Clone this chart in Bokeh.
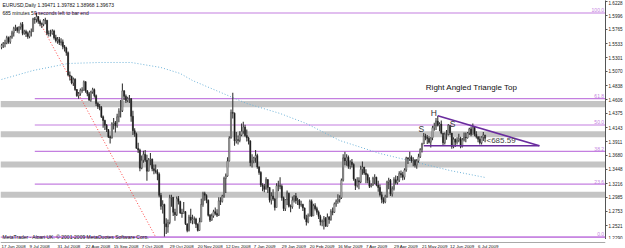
from bokeh.plotting import figure
from bokeh.layouts import column
from bokeh.models import (Range1d, FixedTicker, BoxAnnotation, Label, Span,
                          ColumnDataSource, PrintfTickFormatter)
from bokeh.embed import file_html
from bokeh.resources import INLINE
from bokeh.core.properties import value

# ---------------- data (EURUSD daily, 17 Jun 2008 .. 10 Jul 2009) ----------------
first_open = 1.5470
closes = [
 1.5505,1.5535,1.5540,1.5630,1.5560,1.5640,1.5710,1.5780,1.5795,1.5750,
 1.5805,1.5850,1.5700,1.5730,1.5700,1.5650,1.5720,1.5730,1.5940,1.5930,1.5980,1.5900,1.5860,1.5850,1.5920,1.5920,1.5700,1.5700,1.5700,1.5740,1.5630,1.5580,1.5600,
 1.5550,1.5560,1.5480,1.5460,1.5380,1.5010,1.4990,1.4880,1.4940,1.4770,1.4670,1.4700,1.4760,1.4760,1.4900,1.4750,1.4700,1.4600,1.4730,1.4770,1.4670,
 1.4540,1.4490,1.4480,1.4320,1.4260,1.4180,1.4110,1.3990,1.3970,1.4200,1.4220,1.4170,1.4320,1.4410,1.4420,1.4750,1.4660,1.4590,1.4620,1.4620,1.4330,1.4090,
 1.4040,1.3800,1.3770,1.3470,1.3600,1.3700,1.3600,1.3420,1.3610,1.3620,1.3460,1.3430,1.3410,1.3370,1.3020,1.2840,1.2870,1.2550,1.2500,1.2570,1.2980,1.2990,1.2740,
 1.2700,1.2970,1.2920,1.2730,1.2720,1.2750,1.2550,1.2440,1.2660,1.2610,1.2630,1.2630,1.2540,1.2440,1.2580,1.2870,1.3050,1.3020,1.2940,1.2690,
 1.2610,1.2680,1.2750,1.2720,1.2690,1.2930,1.2920,1.3010,1.3300,1.3340,1.3590,1.3970,1.4390,1.4380,1.3920,1.3940,1.3930,1.4020,1.4080,1.4150,1.4010,1.3970,
 1.3920,1.3560,1.3590,1.3640,1.3680,1.3490,1.3400,1.3190,1.3170,1.3120,1.3280,1.3150,1.2940,1.3010,1.2960,1.2820,1.3180,1.3180,1.3170,1.2980,1.2800,
 1.2950,1.3060,1.2840,1.2830,1.2940,1.3010,1.2930,1.2940,1.2860,1.2870,1.2810,1.2640,1.2580,1.2680,1.2920,1.2680,1.2850,1.2800,1.2740,1.2670,
 1.2580,1.2590,1.2640,1.2510,1.2660,1.2620,1.2750,1.2740,1.2880,1.2920,1.2950,1.2980,1.3270,1.3640,1.3590,1.3650,1.3500,1.3570,1.3530,1.3290,1.3180,1.3260,
 1.3240,1.3450,1.3490,1.3390,1.3360,1.3270,1.3170,1.3190,1.3300,1.3320,1.3190,1.3150,1.3030,1.2950,1.2910,1.3000,1.3240,1.3270,1.3040,1.3130,1.3280,1.3230,
 1.3270,1.3380,1.3360,1.3320,1.3440,1.3640,1.3620,1.3650,1.3590,1.3600,1.3520,1.3590,1.3660,1.3780,1.3870,1.4000,1.3980,1.3960,1.3900,1.3970,1.4140,
 1.4170,1.4250,1.4180,1.4200,1.4050,1.3890,1.4030,1.4030,1.4180,1.4050,1.3830,1.3950,1.3900,1.3930,1.3960,1.3830,1.3940,1.3980,1.3970,1.4050,1.4120,1.4030,
 1.4150,1.4030,1.3990,1.3950,1.3890,1.3980,1.4020,1.3967]
highs = [
 1.5530,1.5560,1.5595,1.5660,1.5650,1.5660,1.5745,1.5810,1.5845,1.5810,
 1.5820,1.5880,1.5890,1.5760,1.5760,1.5730,1.5750,1.5780,1.5960,1.5970,1.6038,1.5990,1.5930,1.5880,1.5940,1.5960,1.5920,1.5750,1.5760,1.5770,1.5760,1.5680,1.5640,
 1.5640,1.5620,1.5600,1.5510,1.5480,1.5400,1.5070,1.5000,1.4970,1.4960,1.4780,1.4730,1.4790,1.4810,1.4920,1.4910,1.4760,1.4730,1.4750,1.4800,1.4790,
 1.4690,1.4560,1.4530,1.4500,1.4340,1.4270,1.4200,1.4120,1.4010,1.4230,1.4300,1.4250,1.4370,1.4460,1.4600,1.4870,1.4760,1.4690,1.4650,1.4680,1.4630,1.4420,
 1.4130,1.4060,1.3890,1.3790,1.3680,1.3760,1.3770,1.3690,1.3640,1.3720,1.3630,1.3530,1.3530,1.3450,1.3400,1.3060,1.2940,1.2880,1.2640,1.2620,1.3030,1.3030,1.2990,
 1.2800,1.3000,1.3010,1.2930,1.2800,1.2910,1.2760,1.2550,1.2700,1.2800,1.2700,1.2670,1.2650,1.2560,1.2650,1.2970,1.3080,1.3080,1.3040,1.2950,
 1.2710,1.2720,1.2780,1.2820,1.2790,1.2990,1.2990,1.3030,1.3330,1.3380,1.3650,1.4000,1.4440,1.4720,1.4390,1.4070,1.4010,1.4080,1.4210,1.4240,1.4190,1.4110,
 1.3990,1.3930,1.3700,1.3660,1.3770,1.3710,1.3500,1.3420,1.3220,1.3210,1.3320,1.3290,1.3160,1.3070,1.3120,1.2980,1.3220,1.3260,1.3320,1.3200,1.3000,
 1.2960,1.3100,1.3040,1.2870,1.3000,1.3020,1.3060,1.2980,1.2960,1.2930,1.2880,1.2820,1.2700,1.2720,1.2950,1.2950,1.2880,1.2890,1.2830,1.2770,
 1.2700,1.2620,1.2680,1.2660,1.2720,1.2680,1.2790,1.2820,1.2900,1.2950,1.3040,1.3020,1.3300,1.3700,1.3740,1.3700,1.3680,1.3600,1.3620,1.3550,1.3290,1.3320,
 1.3320,1.3510,1.3580,1.3490,1.3450,1.3380,1.3320,1.3220,1.3330,1.3370,1.3330,1.3260,1.3200,1.3080,1.2990,1.3030,1.3260,1.3310,1.3290,1.3170,1.3320,1.3350,
 1.3340,1.3420,1.3430,1.3410,1.3470,1.3660,1.3650,1.3740,1.3680,1.3650,1.3620,1.3620,1.3710,1.3800,1.3890,1.4050,1.4040,1.4020,1.4000,1.3980,1.4170,
 1.4220,1.4300,1.4338,1.4230,1.4260,1.4000,1.4060,1.4100,1.4200,1.4160,1.4050,1.3980,1.3960,1.3980,1.4040,1.3990,1.3970,1.4060,1.4060,1.4070,1.4140,1.4160,
 1.4210,1.4160,1.4080,1.4000,1.4000,1.4000,1.4070,1.3978]
lows = [
 1.5440,1.5460,1.5470,1.5520,1.5530,1.5530,1.5610,1.5650,1.5740,1.5710,
 1.5700,1.5760,1.5670,1.5680,1.5640,1.5610,1.5620,1.5650,1.5730,1.5860,1.5880,1.5860,1.5820,1.5790,1.5820,1.5850,1.5670,1.5650,1.5650,1.5680,1.5600,1.5550,1.5530,
 1.5510,1.5500,1.5440,1.5400,1.5330,1.4990,1.4920,1.4860,1.4830,1.4750,1.4650,1.4620,1.4670,1.4720,1.4750,1.4720,1.4660,1.4580,1.4570,1.4700,1.4640,
 1.4500,1.4450,1.4430,1.4300,1.4140,1.4100,1.4070,1.3970,1.3880,1.3960,1.4110,1.4060,1.4140,1.4230,1.4310,1.4400,1.4600,1.4550,1.4560,1.4550,1.4240,1.4020,
 1.3990,1.3790,1.3720,1.3420,1.3450,1.3560,1.3570,1.3260,1.3420,1.3520,1.3420,1.3370,1.3380,1.3270,1.2990,1.2780,1.2720,1.2330,1.2380,1.2400,1.2540,1.2830,1.2680,
 1.2600,1.2680,1.2870,1.2710,1.2650,1.2730,1.2530,1.2410,1.2420,1.2560,1.2540,1.2550,1.2480,1.2420,1.2430,1.2580,1.2830,1.2930,1.2890,1.2670,
 1.2580,1.2600,1.2650,1.2690,1.2660,1.2680,1.2860,1.2900,1.2980,1.3060,1.3330,1.3580,1.3960,1.4290,1.3840,1.3880,1.3860,1.3900,1.4000,1.4040,1.3990,1.3910,
 1.3860,1.3500,1.3480,1.3550,1.3560,1.3460,1.3360,1.3160,1.3090,1.3070,1.3120,1.3060,1.2900,1.2870,1.2930,1.2770,1.2960,1.3090,1.3120,1.2930,1.2760,
 1.2760,1.2860,1.2820,1.2740,1.2800,1.2900,1.2880,1.2860,1.2800,1.2830,1.2760,1.2620,1.2520,1.2560,1.2670,1.2660,1.2680,1.2770,1.2700,1.2630,
 1.2520,1.2510,1.2456,1.2500,1.2500,1.2550,1.2600,1.2690,1.2730,1.2830,1.2880,1.2900,1.2960,1.3250,1.3520,1.3510,1.3460,1.3450,1.3480,1.3260,1.3110,1.3150,
 1.3120,1.3220,1.3360,1.3360,1.3220,1.3220,1.3140,1.3150,1.3180,1.3210,1.3170,1.3080,1.3000,1.2890,1.2880,1.2890,1.2980,1.3120,1.3010,1.3000,1.3100,1.3200,
 1.3200,1.3240,1.3310,1.3270,1.3280,1.3410,1.3540,1.3590,1.3560,1.3500,1.3480,1.3460,1.3560,1.3640,1.3730,1.3870,1.3930,1.3870,1.3880,1.3810,1.3930,
 1.4090,1.4100,1.4160,1.4080,1.4030,1.3840,1.3860,1.3940,1.4010,1.4020,1.3790,1.3800,1.3820,1.3860,1.3900,1.3800,1.3810,1.3910,1.3900,1.3960,1.4020,1.4000,
 1.4050,1.4000,1.3960,1.3900,1.3860,1.3860,1.3920,1.3897]

date_labels = ["17 Jun 2008", "9 Jul 2008", "31 Jul 2008", "22 Aug 2008", "15 Sep 2008",
               "7 Oct 2008", "29 Oct 2008", "20 Nov 2008", "12 Dec 2008", "7 Jan 2009",
               "29 Jan 2009", "20 Feb 2009", "16 Mar 2009", "7 Apr 2009", "29 Apr 2009",
               "21 May 2009", "12 Jun 2009", "6 Jul 2009"]
date_label_bars = [0, 16, 32, 48, 64, 80, 96, 112, 128, 144, 160, 176, 192, 208, 224, 240, 256, 272]

price_ticks = [1.6228, 1.5996, 1.5765, 1.5533, 1.5301, 1.5070, 1.4838, 1.4606, 1.4375,
               1.4143, 1.3911, 1.3680, 1.3448, 1.3216, 1.2985, 1.2753, 1.2521, 1.2290]
last_price = 1.3967

# Fibonacci retracement
fib_high, fib_low = 1.6038, 1.2330
fib_high_bar, fib_low_bar = 19, 88
fib_levels = [100.0, 61.8, 50.0, 38.2, 23.6, 0.0]
fib_texts = ["100.0", "61.8", "50.0", "38.2", "23.6", "0.0"]

# grey support / resistance zones
zone_bottoms = [1.4480, 1.3980, 1.3480, 1.2980]
zone_tops = [1.4580, 1.4080, 1.3580, 1.3080]

# moving average
ma_bars = [0, 18, 38, 56, 74, 91, 102, 109, 140, 159, 174, 193, 216, 235, 256, 276]
ma_values = [1.4938, 1.5086, 1.5202, 1.5219, 1.5219, 1.5136, 1.5037, 1.4921, 1.4540,
             1.4375, 1.4209, 1.3928, 1.3713, 1.3580, 1.3431, 1.3316]

# triangle
tri_head_bar, tri_head_price = 249, 1.4338
tri_base_start_bar, tri_base_price = 241, 1.3840
tri_apex_bar = 307

pattern_letters = ["S", "H", "S"]
pattern_bars = [239.6, 246.7, 257.5]
pattern_prices = [1.4118, 1.4391, 1.4193]

# ---------------- layout helpers ----------------
W, H = 606, 239
BAR_PX = 1.755
x0 = -1.0 / BAR_PX
x1 = x0 + W / BAR_PX
PPP = 0.001655                     # price per pixel
y1 = fib_high + 12.5 * PPP
y0 = y1 - H * PPP

def px2x(px):
    return x0 + px / BAR_PX

def py2y(py):
    return y1 - py * PPP

FONT = "Liberation Sans"
FIB_COLOR = "#c47fe0"
AX_COLOR = "#555555"
CANDLE = "#383838"

p = figure(width=625, height=H, output_backend="svg", toolbar_location=None,
           x_range=Range1d(x0, x1), y_range=Range1d(y0, y1),
           y_axis_location="right", x_axis_location=None,
           min_border_left=0, min_border_top=0, min_border_right=19, min_border_bottom=0)
p.grid.visible = False
p.outline_line_color = None
p.background_fill_color = "white"
p.border_fill_color = "white"

# price axis
p.yaxis.ticker = FixedTicker(ticks=price_ticks)
p.yaxis.formatter = PrintfTickFormatter(format="%.4f")
p.yaxis.major_label_text_font_size = "4.6px"
p.yaxis.major_label_text_font = FONT
p.yaxis.major_label_text_color = "#222222"
p.yaxis.major_tick_out = 2
p.yaxis.major_tick_in = 0
p.yaxis.minor_tick_out = 0
p.yaxis.minor_tick_in = 0
p.yaxis.major_label_standoff = 1
p.yaxis.axis_line_color = AX_COLOR
p.yaxis.major_tick_line_color = AX_COLOR

# zones
for b, t in zip(zone_bottoms, zone_tops):
    p.add_layout(BoxAnnotation(bottom=b, top=t, fill_color="#c4c4c4", fill_alpha=1.0,
                               line_color=None, level="underlay"))

# fibonacci lines
fib_prices = [fib_low + (fib_high - fib_low) * lv / 100.0 for lv in fib_levels]
p.segment(x0=[fib_high_bar] * len(fib_prices), x1=[x1] * len(fib_prices),
          y0=fib_prices, y1=fib_prices, line_color=FIB_COLOR, line_width=1.2)
p.add_layout(Span(location=fib_low, dimension="width", line_color=FIB_COLOR, line_width=1.2))
p.text(x=[x1 - 0.8] * len(fib_prices), y=[fp + 0.6 * PPP for fp in fib_prices], text=fib_texts,
       text_font=value(FONT), text_font_size="5px", text_color=FIB_COLOR,
       text_align="right", text_baseline="bottom")
p.line([fib_high_bar, fib_low_bar], [fib_high, fib_low], line_color="#ff4444",
       line_dash="1 2", line_width=1)

# moving average
p.line(ma_bars, ma_values, line_color="#6fb3d8", line_dash="1 2", line_width=1)

# candles
N = len(closes)
bars = list(range(N))
opens = [first_open] + closes[:-1]
tops = [max(o, c) for o, c in zip(opens, closes)]
bots = [min(o, c) for o, c in zip(opens, closes)]
fills = ["white" if c >= o else "black" for o, c in zip(opens, closes)]
src = ColumnDataSource(dict(x=bars, h=highs, l=lows, t=tops, b=bots, f=fills))
p.segment(x0="x", x1="x", y0="h", y1="l", source=src, line_color=CANDLE, line_width=1.1)
p.vbar(x="x", width=0.62, top="t", bottom="b", fill_color="f", line_color=CANDLE,
       line_width=0.6, source=src)

# triangle
p.line([tri_head_bar, tri_apex_bar], [tri_head_price, tri_base_price],
       line_color="#6a2c9e", line_width=1.6)
p.line([tri_base_start_bar, tri_apex_bar], [tri_base_price, tri_base_price],
       line_color="#6a2c9e", line_width=1.6)

p.text(x=pattern_bars, y=pattern_prices, text=pattern_letters, text_font=value(FONT),
       text_font_size="8.5px", text_color="#333333", text_align="center",
       text_baseline="middle")

p.add_layout(Label(x=px2x(472), y=py2y(87), text="Right Angled Triangle Top",
                   text_font=FONT, text_font_size="8px", text_color="#111111",
                   text_align="center", text_baseline="middle"))
p.add_layout(Label(x=N - 0.2, y=py2y(140), text="<685.59",
                   text_font=FONT, text_font_size="8px", text_color="#444444",
                   text_align="left", text_baseline="middle"))

# header texts
p.add_layout(Label(x=px2x(2), y=py2y(4.5), text="EURUSD,Daily  1.39471 1.39782 1.38968 1.39673",
                   text_font=FONT, text_font_size="5px", text_color="#111111",
                   text_align="left", text_baseline="middle"))
p.add_layout(Label(x=px2x(2), y=py2y(12), text="685 minutes 59 seconds left to bar end",
                   text_font=FONT, text_font_size="5px", text_color="#111111",
                   text_align="left", text_baseline="middle"))
p.add_layout(Label(x=px2x(2), y=py2y(236), text="MetaTrader - Alpari UK, \u00a9 2001-2009 MetaQuotes Software Corp.",
                   text_font=FONT, text_font_size="5px", text_color="#111111",
                   text_align="left", text_baseline="middle"))

# current price box on the axis
p.add_layout(Label(x=x1, y=last_price, x_offset=2, text="%.4f" % last_price,
                   text_font=FONT, text_font_size="4.6px", text_color="white",
                   background_fill_color="black", text_align="left", text_baseline="middle"))

# time scale strip (dates left aligned at their bar, as in MetaTrader)
t = figure(width=625, height=248 - H, output_backend="svg", toolbar_location=None,
           x_range=p.x_range, y_range=Range1d(0, 1),
           x_axis_location=None, y_axis_location=None,
           min_border_left=0, min_border_top=0, min_border_right=19, min_border_bottom=0)
t.grid.visible = False
t.outline_line_color = None
t.background_fill_color = "white"
t.border_fill_color = "white"
t.segment(x0=x0, x1=x1, y0=1, y1=1, line_color=AX_COLOR, line_width=1)
t.text(x=date_label_bars, y=[1] * len(date_label_bars), y_offset=1.5, text=date_labels,
       text_font=value(FONT), text_font_size="4.4px", text_color="#111111",
       text_align="left", text_baseline="top")

layout = column(p, t, spacing=0)
open("out.html", "w").write(file_html(layout, INLINE))
